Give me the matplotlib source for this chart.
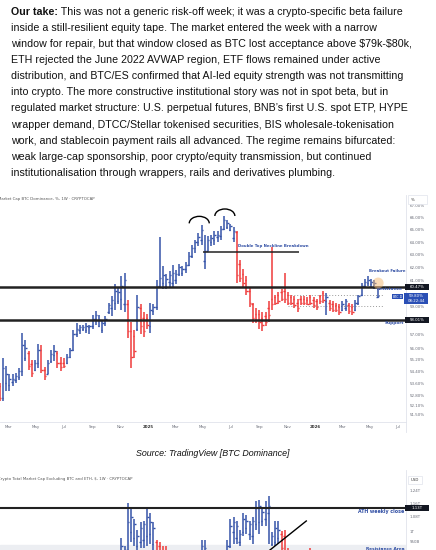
import matplotlib
matplotlib.use('Agg')
import matplotlib.pyplot as plt
import matplotlib.dates as mdates
from matplotlib.patches import Rectangle, Arc, Ellipse
from matplotlib.ticker import NullLocator
import numpy as np
import pandas as pd

W, H = 436, 550
BLUE = '#3553a8'
RED = '#ef3a3a'
NOTE = '#2f4da3'
AXCOL = '#6a6d78'

# commentary text
para_lead = 'Our take:'
para_lines = [
    ' This was not a generic risk-off week; it was a crypto-specific beta failure',
    'inside a still-resilient equity tape. The market entered the week with a narrow',
    'window for repair, but that window closed as BTC lost acceptance above \\$79k-\\$80k,',
    'ETH rejected the June 2022 AVWAP region, ETF flows remained under active',
    'distribution, and BTC/ES confirmed that AI-led equity strength was not transmitting',
    'into crypto. The more constructive institutional story was not in spot beta, but in',
    'regulated market structure: U.S. perpetual futures, BNB\u2019s first U.S. spot ETP, HYPE',
    'wrapper demand, DTCC/Stellar tokenised securities, BIS wholesale-tokenisation',
    'work, and stablecoin payment rails all advanced. The regime remains bifurcated:',
    'weak large-cap sponsorship, poor crypto/equity transmission, but continued',
    'institutionalisation through wrappers, rails and derivatives plumbing.',
]
caption = 'Source: TradingView [BTC Dominance]'

# BTC dominance, weekly OHLC (%)
dom_start = '2024-02-12'
dom_open = [53.4, 52.6, 53.6, 53.5, 53.7, 53.8, 54.0, 54.4, 55.3, 55.7,
            54.9, 54.5, 55.0, 55.9, 54.5, 54.2, 55.1, 55.5, 55.7, 55.0,
            55.0, 55.0, 55.4, 55.9, 57.0, 57.3, 57.4, 57.3, 57.5, 57.6,
            58.1, 57.6, 57.3, 57.8, 58.6, 58.9, 59.3, 59.4, 59.6, 59.2,
            59.2, 57.2, 56.9, 57.4, 58.9, 58.2, 58.2, 57.6, 58.7, 59.0,
            60.6, 60.8, 60.6, 60.9, 60.8, 61.0, 61.5, 61.6, 61.9, 62.2,
            62.9, 63.5, 64.0, 64.2, 62.5, 63.3, 64.0, 64.2, 64.4, 64.5,
            65.1, 65.2, 65.0, 64.3, 64.8, 62.3, 61.5, 61.0, 60.2, 59.2,
            58.5, 58.5, 58.2, 58.3, 58.9, 59.6, 59.7, 59.9, 60.1, 60.2,
            59.9, 59.7, 59.6, 59.3, 59.6, 59.6, 59.5, 59.7, 59.5, 59.4,
            59.8, 60.0, 59.4, 59.3, 59.2, 59.1, 59.0, 58.8, 58.9, 59.1,
            59.0, 58.8, 59.3, 59.9, 60.6, 60.8, 60.7, 60.5, 59.75]
dom_high = [53.6, 55.3, 54.8, 54.2, 54.2, 54.3, 54.6, 57.1, 56.6, 55.8,
            55.2, 55.2, 56.3, 56.2, 54.7, 55.2, 55.9, 56.2, 55.8, 55.4,
            55.3, 55.6, 56.0, 57.3, 57.8, 57.7, 57.7, 57.8, 57.7, 58.4,
            58.7, 58.4, 58.0, 58.3, 59.3, 59.8, 60.7, 60.4, 61.3, 61.6,
            59.5, 57.9, 57.3, 59.9, 59.2, 58.6, 58.5, 59.3, 59.2, 61.0,
            64.4, 62.1, 61.5, 61.7, 62.2, 61.8, 62.3, 62.1, 62.4, 63.2,
            63.8, 64.2, 64.7, 65.4, 64.6, 64.5, 64.6, 64.9, 64.9, 65.3,
            66.1, 65.8, 65.5, 65.2, 64.9, 62.6, 61.9, 61.3, 60.4, 59.3,
            58.9, 58.8, 58.6, 58.6, 59.4, 63.6, 59.9, 60.1, 60.3, 61.6,
            60.1, 59.9, 59.8, 59.6, 59.8, 59.8, 59.7, 59.9, 59.7, 59.6,
            59.9, 60.2, 60.0, 59.5, 59.4, 59.3, 59.2, 59.4, 59.6, 59.3,
            59.2, 59.5, 59.9, 60.8, 61.1, 61.3, 61.1, 61.0, 60.5]
dom_low = [52.4, 52.4, 53.1, 53.1, 53.4, 53.6, 53.8, 54.1, 55.1, 54.5,
           54.0, 54.4, 54.6, 54.3, 53.8, 54.2, 55.0, 55.1, 54.6, 54.4,
           54.6, 54.9, 55.3, 55.8, 56.8, 57.0, 57.2, 57.1, 57.0, 57.4,
           57.7, 57.5, 57.1, 57.6, 58.5, 58.3, 58.8, 59.2, 58.8, 58.6,
           56.7, 54.6, 55.3, 57.2, 57.0, 56.8, 57.4, 57.1, 58.4, 58.8,
           60.4, 60.3, 60.3, 60.4, 60.4, 60.7, 61.3, 61.3, 61.6, 62.1,
           62.7, 63.1, 63.7, 63.8, 61.9, 63.3, 63.7, 63.8, 64.0, 64.2,
           65.0, 65.1, 64.9, 64.0, 60.8, 60.9, 60.4, 59.9, 59.0, 57.8,
           57.8, 57.4, 57.2, 57.6, 57.9, 58.8, 59.1, 59.2, 59.4, 59.3,
           59.1, 59.1, 58.9, 58.6, 59.1, 59.1, 59.1, 59.1, 58.9, 58.8,
           59.2, 59.3, 58.4, 58.7, 58.6, 58.6, 58.4, 58.7, 58.7, 58.5,
           58.4, 58.7, 59.1, 59.8, 60.4, 60.6, 60.5, 60.3, 59.65]
dom_close = [52.6, 54.6, 54.2, 53.9, 53.9, 54.1, 54.4, 56.2, 56.0, 54.8,
             54.3, 55.0, 55.9, 54.5, 54.1, 55.0, 55.6, 55.8, 55.0, 54.7,
             54.8, 55.4, 55.9, 57.0, 57.4, 57.5, 57.5, 57.6, 57.6, 58.1,
             58.4, 58.0, 57.8, 58.1, 59.1, 59.5, 60.2, 60.1, 60.6, 61.0,
             57.2, 55.4, 55.8, 59.0, 57.6, 57.2, 57.7, 58.8, 59.0, 60.5,
             61.2, 61.4, 61.1, 61.4, 61.6, 61.5, 62.0, 61.9, 62.2, 62.9,
             63.5, 64.0, 64.4, 65.0, 63.3, 64.2, 64.3, 64.6, 64.6, 65.1,
             65.8, 65.6, 65.3, 64.9, 61.4, 61.2, 60.8, 60.2, 59.3, 58.2,
             58.0, 57.9, 57.7, 57.9, 58.4, 59.2, 59.3, 59.4, 59.6, 59.6,
             59.3, 59.3, 59.1, 58.9, 59.3, 59.3, 59.2, 59.3, 59.1, 59.0,
             59.4, 59.5, 59.7, 58.9, 58.8, 58.8, 58.6, 59.2, 59.4, 58.7,
             58.6, 59.3, 59.8, 60.6, 60.9, 61.0, 60.9, 60.8, 59.8]
dom_resistance = 60.47
dom_support = 58.01
dom_last = 59.80
dom_neckline = 63.2
dom_range = [59.87, 59.08]
dom_yticks = [51.5, 52.1, 52.8, 53.6, 54.4, 55.2, 56.0, 57.0, 59.0, 61.0,
              62.0, 63.0, 64.0, 65.0, 66.0, 67.0]
month_ticks = ['2024-03-01', '2024-05-01', '2024-07-01', '2024-09-01', '2024-11-01',
               '2025-01-01', '2025-03-01', '2025-05-01', '2025-07-01', '2025-09-01',
               '2025-11-01', '2026-01-01', '2026-03-01', '2026-05-01', '2026-07-01']
month_labels = ['Mar', 'May', 'Jul', 'Sep', 'Nov', '2025', 'Mar', 'May', 'Jul',
                'Sep', 'Nov', '2026', 'Mar', 'May', 'Jul']

# TOTAL3, weekly OHLC (trillion USD)
t3_start = '2024-11-04'
t3_open = [0.86, 0.88, 0.91, 1.00, 0.97, 0.93, 0.95, 0.96, 0.98, 0.99,
           0.94, 0.95, 0.93, 0.90, 0.90, 0.86, 0.84, 0.80, 0.76, 0.72,
           0.75, 0.72, 0.70, 0.74, 0.80, 0.85, 0.88, 0.90, 0.84, 0.80,
           0.82, 0.78, 0.81, 0.86, 0.93, 1.00, 0.97, 0.95, 1.00, 1.02,
           0.99, 0.98, 1.04, 1.05, 1.06, 1.07, 1.10, 0.94, 0.95, 0.97,
           0.99, 0.98, 0.90, 0.85, 0.80, 0.78, 0.81, 0.79, 0.76, 0.88, 0.82]
t3_high = [0.97, 0.93, 1.16, 1.135, 1.07, 1.01, 1.05, 1.06, 1.13, 1.10,
           1.05, 0.96, 0.95, 0.93, 0.93, 0.88, 0.86, 0.84, 0.80, 0.78,
           0.80, 0.76, 0.76, 0.82, 0.88, 0.96, 0.96, 0.91, 0.88, 0.86,
           0.86, 0.84, 0.88, 0.96, 1.07, 1.08, 1.06, 1.01, 1.10, 1.09,
           1.06, 1.08, 1.17, 1.18, 1.135, 1.17, 1.20, 1.00, 1.06, 1.06,
           1.005, 1.01, 0.92, 0.88, 0.85, 0.84, 0.86, 0.83, 0.82, 0.92, 0.86]
t3_low = [0.84, 0.86, 0.88, 0.95, 0.93, 0.90, 0.92, 0.92, 0.93, 0.94,
          0.90, 0.86, 0.84, 0.84, 0.83, 0.80, 0.76, 0.74, 0.70, 0.69,
          0.70, 0.66, 0.68, 0.72, 0.76, 0.82, 0.84, 0.82, 0.78, 0.76,
          0.76, 0.75, 0.79, 0.84, 0.92, 0.94, 0.94, 0.93, 0.98, 0.99,
          0.96, 0.94, 1.01, 0.99, 1.03, 1.03, 0.94, 0.93, 0.93, 0.94,
          0.88, 0.86, 0.82, 0.78, 0.76, 0.74, 0.77, 0.74, 0.73, 0.80, 0.76]
t3_close = [0.93, 0.91, 1.05, 1.08, 1.04, 0.98, 1.02, 1.04, 1.08, 1.05,
            1.02, 0.88, 0.87, 0.86, 0.85, 0.82, 0.78, 0.76, 0.72, 0.75,
            0.72, 0.70, 0.74, 0.80, 0.85, 0.93, 0.92, 0.84, 0.80, 0.82,
            0.78, 0.81, 0.86, 0.93, 1.03, 1.05, 1.03, 0.99, 1.07, 1.06,
            1.04, 1.06, 1.13, 1.14, 1.11, 1.13, 1.14, 0.98, 1.02, 1.01,
            0.92, 0.90, 0.85, 0.80, 0.78, 0.81, 0.79, 0.76, 0.80, 0.82, 0.78]
t3_ath = 1.13
t3_res_area = [0.88, 0.934]
t3_trend = [('2025-08-20', 0.853), ('2025-12-13', 1.058)]
t3_yticks = [0.95, 1.0, 1.08, 1.16, 1.24]
t3_ylabels = ['950B', '1T', '1.08T', '1.16T', '1.24T']

# ---------------------------------------------------------------- layout
fig = plt.figure(figsize=(W / 100, H / 100), dpi=100)
fig.patch.set_facecolor('white')
renderer = fig.canvas.get_renderer()


def fx(px):
    return px / W


def fy(py):
    return 1 - py / H


# paragraph
PFONT = 'Liberation Sans'
psize = 7.7
for k, line in enumerate(para_lines):
    ypos = fy(11.8 + 16.1 * k)
    if k == 0:
        lead = fig.text(fx(11), ypos, para_lead, fontsize=psize, family=PFONT,
                        fontweight='bold', va='center', color='#111111')
        x0 = fig.transFigure.inverted().transform(
            (lead.get_window_extent(renderer).x1, 0))[0]
        fig.text(x0, ypos, line, fontsize=psize, family=PFONT, va='center', color='#111111')
    else:
        fig.text(fx(11), ypos, line, fontsize=psize, family=PFONT, va='center', color='#111111')

fig.text(fx(212.5), fy(453), caption, fontsize=6.4, family=PFONT, style='italic',
         ha='center', va='center', color='#111111')

# time axis shared by both charts
PXD = 0.4575  # pixels per day
ref = mdates.date2num(pd.Timestamp('2025-01-01'))
xmin = ref - 148 / PXD
xmax = ref + (405.5 - 148) / PXD


def draw_ohlc(ax, start, o, h, l, c):
    x = mdates.date2num(pd.date_range(start, periods=len(c), freq='7D'))
    o, h, l, c = map(np.asarray, (o, h, l, c))
    cols = np.where(c >= o, BLUE, RED)
    ax.vlines(x, l, h, colors=cols, lw=1.1)
    ax.hlines(o, x - 3.2, x, colors=cols, lw=1.0)
    ax.hlines(c, x, x + 3.2, colors=cols, lw=1.0)


def price_box(ax, value, text, fc, height=5.6, left=405, width=24):
    disp = ax.transData.transform((xmin, value))
    py = H - disp[1]
    y_top = py - height / 2
    fig.add_artist(Rectangle((fx(left), fy(y_top + height)), fx(width), height / H,
                             transform=fig.transFigure, fc=fc, ec='none', zorder=5))
    fig.text(fx(left + width / 2), fy(y_top + height / 2), text, fontsize=2.8,
             color='white', ha='center', va='center', zorder=6)


def style_axes(ax):
    for s in ('top', 'left'):
        ax.spines[s].set_visible(False)
    ax.spines['right'].set_color('#e0e3eb')
    ax.spines['right'].set_linewidth(0.6)
    ax.spines['bottom'].set_color('#e0e3eb')
    ax.spines['bottom'].set_linewidth(0.6)
    ax.set_yscale('log')
    ax.yaxis.tick_right()
    ax.yaxis.set_minor_locator(NullLocator())
    ax.tick_params(axis='y', length=0, pad=3.2, labelsize=2.9, labelcolor=AXCOL)
    ax.tick_params(axis='x', length=0, pad=2.2, labelsize=2.9, labelcolor=AXCOL)
    ax.set_xlim(xmin, xmax)
    ax.set_facecolor('white')


# ---------------------------------------------------------------- chart 1
ax1 = fig.add_axes([0, fy(421.7), fx(405.5), (421.7 - 195) / H])
style_axes(ax1)
ax1.set_ylim(51.06, 67.91)
ax1.set_yticks(dom_yticks, labels=['%.2f%%' % v for v in dom_yticks])
ax1.yaxis.set_minor_locator(NullLocator())
ax1.set_xticks(mdates.date2num(pd.to_datetime(month_ticks)), labels=month_labels)
for lab in ax1.get_xticklabels():
    if lab.get_text().isdigit():
        lab.set_fontweight('bold')
        lab.set_color('#333333')

draw_ohlc(ax1, dom_start, dom_open, dom_high, dom_low, dom_close)

ax1.axhline(dom_resistance, color='#222222', lw=1.8, zorder=3)
ax1.axhline(dom_support, color='#222222', lw=1.8, zorder=3)
nk = mdates.date2num(pd.to_datetime(['2025-05-01', '2025-11-27']))
ax1.hlines(dom_neckline, nk[0], nk[1], color='#222222', lw=1.1, zorder=3)
rg = mdates.date2num(pd.to_datetime(['2025-11-02', '2026-05-29']))
for v in dom_range:
    ax1.hlines(v, rg[0], rg[1], color='#9a9a9a', lw=0.7, linestyles=(0, (1, 2)), zorder=1)


def d(s):
    return mdates.date2num(pd.Timestamp(s))


ax1.text(d('2025-07-16'), 63.71, 'Double Top Neckline Breakdown', fontsize=2.8,
         fontweight='bold', color=NOTE, ha='left', va='center')
ax1.text(d('2026-06-09'), 61.70, 'Breakout Failure', fontsize=2.8,
         fontweight='bold', color=NOTE, ha='center', va='center')
ax1.text(d('2026-07-12'), 60.30, 'Resistance', fontsize=3.1,
         fontweight='bold', color=NOTE, ha='right', va='center')
ax1.text(d('2026-07-15'), 57.78, 'Support', fontsize=3.1,
         fontweight='bold', color=NOTE, ha='right', va='center')


def to_fig(ax, xd, yv):
    return fig.transFigure.inverted().transform(ax.transData.transform((xd, yv)))


for cd, cv in (('2025-04-23', 65.53), ('2025-06-18', 66.14)):
    cx, cy = to_fig(ax1, d(cd), cv)
    fig.add_artist(Arc((cx, cy), fx(20), 14 / H, theta1=0, theta2=180,
                       transform=fig.transFigure, color='black', lw=1.0))
cx, cy = to_fig(ax1, d('2026-05-19'), 60.79)
fig.add_artist(Ellipse((cx, cy), fx(11), 11 / H, transform=fig.transFigure,
                       fc='#f5b971', ec='none', alpha=0.5, zorder=4))

price_box(ax1, dom_resistance, '%.2f%%' % dom_resistance, '#131722')
price_box(ax1, dom_support, '%.2f%%' % dom_support, '#131722')
# live price label
disp = ax1.transData.transform((xmin, dom_last))
py = H - disp[1]
fig.add_artist(Rectangle((fx(404), fy(py + 8)), fx(24), 11 / H, transform=fig.transFigure,
                         fc='#2a4fb5', ec='none', zorder=5))
fig.text(fx(416), fy(py - 0.2), '%.2f%%' % dom_last, fontsize=2.8, color='white',
         ha='center', va='center', zorder=6)
fig.text(fx(416), fy(py + 5.0), '08:22:44', fontsize=2.8, color='white',
         ha='center', va='center', zorder=6)
fig.add_artist(Rectangle((fx(392), fy(py + 3.3)), fx(11), 5.0 / H, transform=fig.transFigure,
                         fc='#2a4fb5', ec='none', zorder=5))
fig.text(fx(397.5), fy(py + 0.8), 'BTC.D', fontsize=2.4, color='white', ha='center', va='center', zorder=6)

fig.text(fx(-1.5), fy(199), 'Market Cap BTC Dominance, %, 1W \u00b7 CRYPTOCAP',
         fontsize=2.8, color='#555555', ha='left', va='center')
fig.add_artist(Rectangle((fx(408), fy(204)), fx(19), 9 / H, transform=fig.transFigure,
                         fc='white', ec='#e0e3eb', lw=0.5, zorder=5))
fig.text(fx(411), fy(199.5), '%', fontsize=2.8, color='#333333', va='center', zorder=6)
fig.add_artist(plt.Line2D([fx(405.5), fx(405.5)], [fy(421.7), fy(432)],
                          transform=fig.transFigure, color='#e0e3eb', lw=0.6))

# ---------------------------------------------------------------- chart 2
ax2 = fig.add_axes([0, fy(640), fx(405.5), (640 - 470) / H])
style_axes(ax2)
ax2.set_ylim(0.575, 1.3738)
ax2.set_yticks(t3_yticks, labels=t3_ylabels)
ax2.yaxis.set_minor_locator(NullLocator())
ax2.set_xticks([])

ax2.axhspan(t3_res_area[0], t3_res_area[1], color='#eceef2', zorder=0)
draw_ohlc(ax2, t3_start, t3_open, t3_high, t3_low, t3_close)
ax2.axhline(t3_ath, color='#222222', lw=1.5, zorder=3)
ax2.plot([d(t3_trend[0][0]), d(t3_trend[1][0])], [t3_trend[0][1], t3_trend[1][1]],
         color='black', lw=1.0, zorder=3)
ax2.text(d('2026-07-15'), 1.108, 'ATH weekly close', fontsize=3.4,
         fontweight='bold', color=NOTE, ha='right', va='center')
ax2.text(d('2026-07-15'), 0.917, 'Resistance Area', fontsize=3.1,
         fontweight='bold', color=NOTE, ha='right', va='center')
price_box(ax2, t3_ath, '1.13T', '#131722')

fig.text(fx(-1.5), fy(479), 'Crypto Total Market Cap Excluding BTC and ETH, \\$, 1W \u00b7 CRYPTOCAP',
         fontsize=2.8, color='#555555', ha='left', va='center')
fig.add_artist(Rectangle((fx(408), fy(484)), fx(14), 8 / H, transform=fig.transFigure,
                         fc='white', ec='#e0e3eb', lw=0.5, zorder=5))
fig.text(fx(415), fy(480), 'USD', fontsize=2.8, color='#333333', ha='center', va='center', zorder=6)

fig.savefig('out.png', dpi=100)
